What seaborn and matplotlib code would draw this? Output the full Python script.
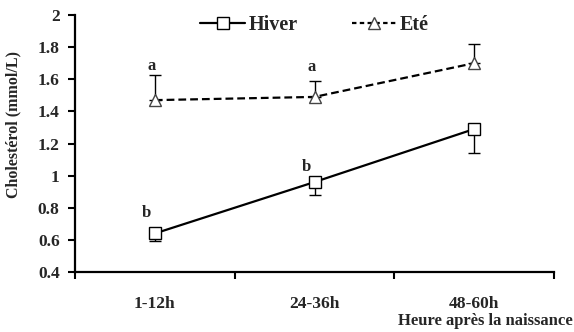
import matplotlib
matplotlib.use("Agg")
import matplotlib.pyplot as plt
import seaborn as sns
import pandas as pd
from matplotlib.lines import Line2D

categories = ["1-12h", "24-36h", "48-60h"]
hiver = [0.64, 0.96, 1.29]
hiver_err_low = [0.05, 0.08, 0.15]
ete = [1.47, 1.49, 1.70]
ete_err_high = [0.155, 0.10, 0.12]
hiver_letters = ["b", "b", ""]
ete_letters = ["a", "a", ""]
hiver_letter_y = [0.765, 1.055, None]
ete_letter_y = [1.685, 1.678, None]

sns.set_theme(style="ticks")
plt.rcParams['font.family'] = ['Liberation Serif', 'DejaVu Serif']
plt.rcParams['font.weight'] = 'bold'

fig = plt.figure(figsize=(5.74, 3.32), dpi=100)
ax = fig.add_axes([75/574, 1-272/332, (554-75)/574, (272-15)/332])

df_h = pd.DataFrame({"x": categories, "y": hiver})
df_e = pd.DataFrame({"x": categories, "y": ete})

sns.lineplot(data=df_h, x="x", y="y", ax=ax, color="black", lw=1.6,
             marker="s", markersize=8.5, markerfacecolor="white",
             markeredgecolor="black", markeredgewidth=1.0, sort=False, zorder=3)
sns.lineplot(data=df_e, x="x", y="y", ax=ax, color="black", lw=1.6,
             linestyle=(0, (3.5, 1.8)), marker="^", markersize=9,
             markerfacecolor="white", markeredgecolor="#444444",
             markeredgewidth=1.0, sort=False, zorder=3)

xs = list(range(len(categories)))
ax.errorbar(xs, hiver, yerr=[hiver_err_low, [0]*3], fmt="none",
            ecolor="black", elinewidth=1.0, capsize=4, capthick=1.0, zorder=2)
ax.errorbar(xs, ete, yerr=[[0]*3, ete_err_high], fmt="none",
            ecolor="black", elinewidth=1.0, capsize=4, capthick=1.0, zorder=2)

for i in xs:
    if hiver_letters[i]:
        ax.text(i - 0.05, hiver_letter_y[i], hiver_letters[i], ha="center",
                va="center", fontsize=12, fontweight="bold")
    if ete_letters[i]:
        ax.text(i - 0.02, ete_letter_y[i], ete_letters[i], ha="center",
                va="center", fontsize=12, fontweight="bold")

ax.set_xlim(-0.5, 2.5)
ax.set_ylim(0.4, 2.0)
ax.set_yticks([0.4, 0.6, 0.8, 1.0, 1.2, 1.4, 1.6, 1.8, 2.0])
ax.set_yticklabels(["0.4", "0.6", "0.8", "1", "1.2", "1.4", "1.6", "1.8", "2"])
ax.set_xticks([-0.5, 0.5, 1.5, 2.5])
ax.set_xticklabels([])
ax.set_xticks(xs, minor=True)
ax.set_xticklabels(categories, minor=True)
ax.tick_params(axis="x", which="minor", length=0, pad=17, labelsize=12.5)
ax.tick_params(axis="x", which="major", length=5, width=1.5, direction="out", color="black")
ax.tick_params(axis="y", length=5, width=1.5, direction="out", pad=6, labelsize=12.5, color="black")
for lab in ax.get_yticklabels() + ax.get_xticklabels(minor=True):
    lab.set_fontweight("bold")

for s in ["top", "right"]:
    ax.spines[s].set_visible(False)
for s in ["left", "bottom"]:
    ax.spines[s].set_linewidth(1.6)
    ax.spines[s].set_color("black")

ax.set_xlabel("")
ax.set_ylabel("")
fig.text(13/574, 1-125/332, "Cholestérol (mmol/L)", rotation=90, ha="center",
         va="center", fontsize=11.5, fontweight="bold")
fig.text(573/574, 1-321/332, "Heure après la naissance", ha="right",
         va="center", fontsize=12, fontweight="bold")

handles = [
    Line2D([], [], color="black", lw=1.6, marker="s", markersize=8.5,
           markerfacecolor="white", markeredgecolor="black", markeredgewidth=1.0),
    Line2D([], [], color="black", lw=1.6, linestyle=(0, (2, 1.5)), marker="^",
           markersize=9, markerfacecolor="white", markeredgecolor="#444444",
           markeredgewidth=1.0),
]
leg = ax.legend(handles, ["Hiver", "Eté"], ncol=2, loc="center",
                bbox_to_anchor=(0.5, 0.962), frameon=False, handlelength=2.25,
                handletextpad=0.15, columnspacing=2.7,
                prop={"family": "Liberation Serif", "weight": "bold", "size": 14.5})

fig.savefig("out.png", dpi=100)
